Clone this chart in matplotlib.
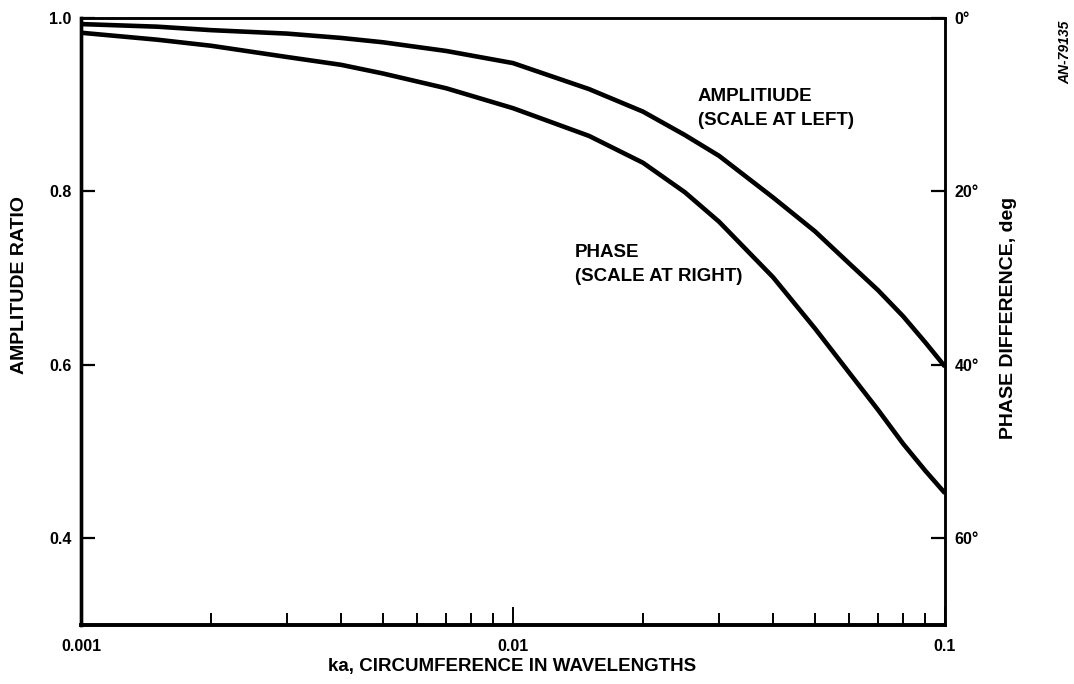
import matplotlib
matplotlib.use("Agg")
import matplotlib.pyplot as plt
from matplotlib.ticker import FixedLocator, NullFormatter

plt.rcParams['font.family'] = ['Liberation Sans', 'DejaVu Sans']

# circumference ka (wavelengths)
ka = [0.001, 0.0015, 0.002, 0.003, 0.004, 0.005, 0.007, 0.01, 0.015, 0.02,
      0.025, 0.03, 0.04, 0.05, 0.06, 0.07, 0.08, 0.09, 0.1]
# amplitude ratio (left scale)
amplitude = [0.993, 0.990, 0.986, 0.982, 0.977, 0.972, 0.962, 0.948, 0.918, 0.892,
             0.865, 0.841, 0.793, 0.754, 0.717, 0.686, 0.656, 0.626, 0.598]
# phase difference in degrees (right scale)
phase = [1.7, 2.5, 3.2, 4.5, 5.4, 6.4, 8.1, 10.4, 13.6, 16.7,
         20.1, 23.5, 29.9, 35.8, 40.9, 45.2, 49.1, 52.2, 54.8]

amp_ticks = [0.4, 0.6, 0.8, 1.0]
amp_labels = ["0.4", "0.6", "0.8", "1.0"]
phase_ticks = [0, 20, 40, 60]
phase_labels = ["0°", "20°", "40°", "60°"]
x_ticks = [0.001, 0.01, 0.1]
x_labels = ["0.001", "0.01", "0.1"]

W, H = 1074, 684
L, R, T, B = 81, 945, 18, 625

fig = plt.figure(figsize=(W / 100, H / 100), dpi=100)
ax = fig.add_axes([L / W, 1 - B / H, (R - L) / W, (B - T) / H])
ax2 = ax.twinx()

ax.set_xscale('log')
ax.set_xlim(0.001, 0.1)
ax.set_ylim(0.3, 1.0)
ax2.set_ylim(70, 0)

line_kw = dict(color='black', lw=3.3, solid_capstyle='butt', solid_joinstyle='round')
ax.plot(ka, amplitude, **line_kw)
ax2.plot(ka, phase, **line_kw)

tick_font = dict(fontsize=11.5, fontweight='bold')

ax.set_yticks(amp_ticks)
ax.set_yticklabels(amp_labels, **tick_font)
ax2.set_yticks(phase_ticks)
ax2.set_yticklabels(phase_labels, **tick_font)

ax.xaxis.set_major_locator(FixedLocator(x_ticks))
ax.set_xticklabels(x_labels, **tick_font)
ax.xaxis.set_minor_locator(FixedLocator([m * d for d in (0.001, 0.01) for m in range(2, 10)]))
ax.xaxis.set_minor_formatter(NullFormatter())

ax.tick_params(axis='y', direction='in', length=10, width=1.6, pad=7, colors='black')
ax.tick_params(axis='x', which='major', direction='in', length=13, width=1.4, pad=10)
ax.tick_params(axis='x', which='minor', direction='in', length=8.5, width=1.4)
ax2.tick_params(axis='y', direction='in', length=10, width=1.6, pad=7)

for a in (ax, ax2):
    a.spines['left'].set_linewidth(2.4)
    a.spines['bottom'].set_linewidth(2.6)
    a.spines['right'].set_linewidth(1.8)
    a.spines['top'].set_linewidth(1.8)

label_font = dict(fontsize=14, fontweight='bold')
ax.set_ylabel("AMPLITUDE RATIO", **label_font)
ax.yaxis.set_label_coords((20 - L) / (R - L), (B - 285) / (B - T))
ax.yaxis.label.set_va('center')
ax2.set_ylabel("PHASE DIFFERENCE, deg", rotation=90, **label_font)
ax2.yaxis.set_label_coords((1008 - L) / (R - L), (B - 318) / (B - T))
ax2.yaxis.label.set_va('center')
ax.set_xlabel("ka, CIRCUMFERENCE IN WAVELENGTHS", fontsize=13.5, fontweight='bold')
ax.xaxis.set_label_coords((512 - L) / (R - L), (B - 667) / (B - T))
ax.xaxis.label.set_va('center')

note_font = dict(fontsize=13.5, fontweight='bold', ha='left', va='center', linespacing=1.5)
ax.text(0.0268, 0.8956, "AMPLITIUDE\n(SCALE AT LEFT)", **note_font)
ax.text(0.0139, 0.716, "PHASE\n(SCALE AT RIGHT)", **note_font)

fig.text(1065 / W, 1 - 52 / H, "AN-79135", rotation=90, fontsize=10, fontweight='bold',
         fontstyle='italic', ha='center', va='center')

fig.savefig("out.png", dpi=100)
